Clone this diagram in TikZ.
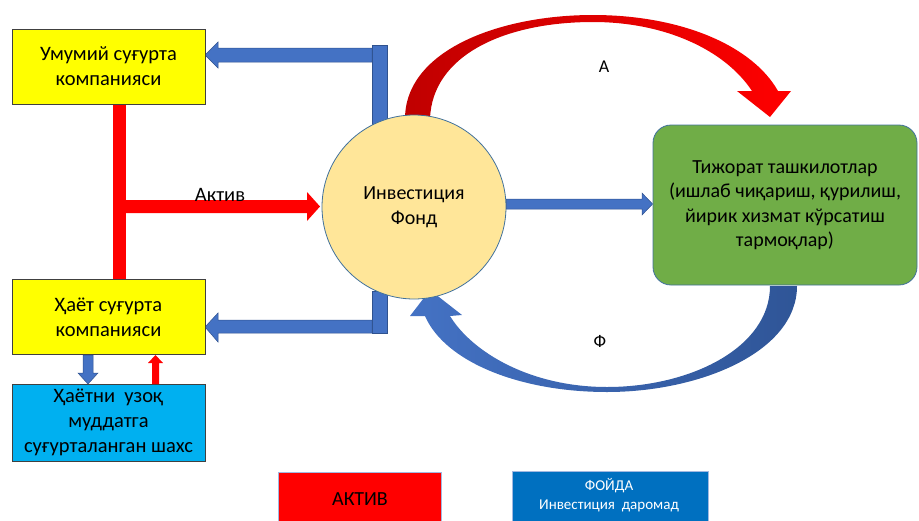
\documentclass[tikz,border=0pt]{standalone}
\usepackage{fontspec}
\setmainfont{Carlito}
\definecolor{cyel}{HTML}{FFFF00}
\definecolor{ccyan}{HTML}{00B0F0}
\definecolor{ccirc}{HTML}{FFE699}
\definecolor{cgreen}{HTML}{70AD47}
\definecolor{cblue}{HTML}{4472C4}
\definecolor{cblueD}{HTML}{2F5597}
\definecolor{cblueE}{HTML}{2F528F}
\definecolor{cred}{HTML}{FF0000}
\definecolor{credD}{HTML}{C00000}
\definecolor{clegblue}{HTML}{0070C0}
\definecolor{cedge}{HTML}{41719C}
\begin{document}
\begin{tikzpicture}[x=1pt,y=-1pt,
  boxtxt/.style={font=\fontsize{20}{24.5}\selectfont, align=center, inner sep=0pt},
  ybox/.style={boxtxt, font=\fontsize{20.5}{25}\selectfont, draw=black!75, line width=1pt, fill=cyel, minimum width=193pt, minimum height=75pt},
  bluearrow/.style={fill=cblue, draw=cblueE, line width=0.5pt},
  redarrow/.style={fill=cred, draw=none},
  lbl/.style={font=\fontsize{18}{20}\selectfont, inner sep=0pt}]
\useasboundingbox (0,0) rectangle (919,520);

% red T connector (behind boxes)
\fill[cred] (113,104) rectangle (126,279);
\fill[redarrow] (126,200) -- (307,200) -- (307,192) -- (320,206.5) -- (307,221) -- (307,213) -- (126,213) -- cycle;

% blue L arrows
\draw[bluearrow] (372,45) rectangle (387,124);
\draw[bluearrow] (372,48) -- (218,48) -- (218,42) -- (205,55) -- (218,68) -- (218,62) -- (372,62) -- cycle;
\draw[bluearrow] (372,291) rectangle (387,333);
\draw[bluearrow] (372,320) -- (218,320) -- (218,313) -- (205,327) -- (218,342) -- (218,333) -- (372,333) -- cycle;

% red curved arrow (top)
\shade[left color=credD, right color=cred]
  (405,119) .. controls (405,50) and (500,15) .. (593,15)
  .. controls (680,15) and (752,45) .. (778,91)
  -- (791,91) -- (770,117) -- (737,91) -- (752,91)
  .. controls (725,50) and (665,22) .. (593,22)
  .. controls (505,22) and (432,55) .. (430,119) -- cycle;

% blue curved arrow (bottom)
\shade[left color=cblue, right color=cblueD]
  (797,286) .. controls (797,352) and (700,392) .. (607,392)
  .. controls (520,392) and (445,362) .. (425,316)
  -- (410,316) -- (430,290) -- (462,315) -- (450,316)
  .. controls (472,352) and (530,387) .. (607,387)
  .. controls (690,387) and (770,348) .. (770,286) -- cycle;

% nodes
\node[ybox] (gen) at (108.5,66.5) {Умумий суғурта\\компанияси};
\node[ybox] (life) at (108.5,317) {Ҳаёт суғурта\\компанияси};
\node[ybox, fill=ccyan, minimum height=77pt] (pers) at (108.5,422.5) {Ҳаётни~~узоқ\\муддатга\\суғурталанган шахс};
\node[boxtxt, circle, draw=cedge, line width=0.8pt, fill=ccirc, minimum size=184pt] (fund) at (414,207) {Инвестиция\\Фонд};
\node[boxtxt, draw=cedge, line width=0.8pt, fill=cgreen, rounded corners=18pt, minimum width=264pt, minimum height=160pt] (biz) at (785,205)
  {Тижорат ташкилотлар\\(ишлаб чиқариш, қурилиш,\\йирик хизмат кўрсатиш\\тармоқлар)};

% straight blue arrow fund -> biz
\draw[bluearrow] (fund.east |- 0,199) -- (642,199) -- (642,193) -- (biz.west |- 0,204) -- (642,215) -- (642,209) -- (fund.east |- 0,209) -- cycle;

% small arrows between life and person
\draw[bluearrow] (83,355) -- (93,355) -- (93,373) -- (98,373) -- (88,384) -- (78,373) -- (83,373) -- cycle;
\fill[redarrow] (152,384) -- (152,363) -- (148,363) -- (155.5,355) -- (163,363) -- (159,363) -- (159,384) -- cycle;

% labels
\node[lbl, font=\fontsize{20.5}{22}\selectfont] (aktivlbl) at (220,195) {Актив};
\node[lbl] (albl) at (604,67) {А};
\node[lbl] (flbl) at (600,341) {Ф};

% legend
\node[draw=cblue!50, line width=0.6pt, fill=cred, minimum width=163pt, minimum height=50pt, inner sep=0pt, anchor=north west] (legred) at (278,472) {};
\node[font=\fontsize{20}{22}\selectfont, inner sep=0pt] (legredtxt) at (360,499) {АКТИВ};
\node[draw=cblue!50, line width=0.6pt, fill=clegblue, minimum width=196pt, minimum height=52pt, inner sep=0pt, anchor=north west] (legblue) at (512,471) {};
\node[text=white, align=center, font=\fontsize{15}{19}\selectfont, inner sep=0pt] (legbluetxt) at (609,495) {ФОЙДА\\Инвестиция~~даромад};
\end{tikzpicture}
\end{document}
